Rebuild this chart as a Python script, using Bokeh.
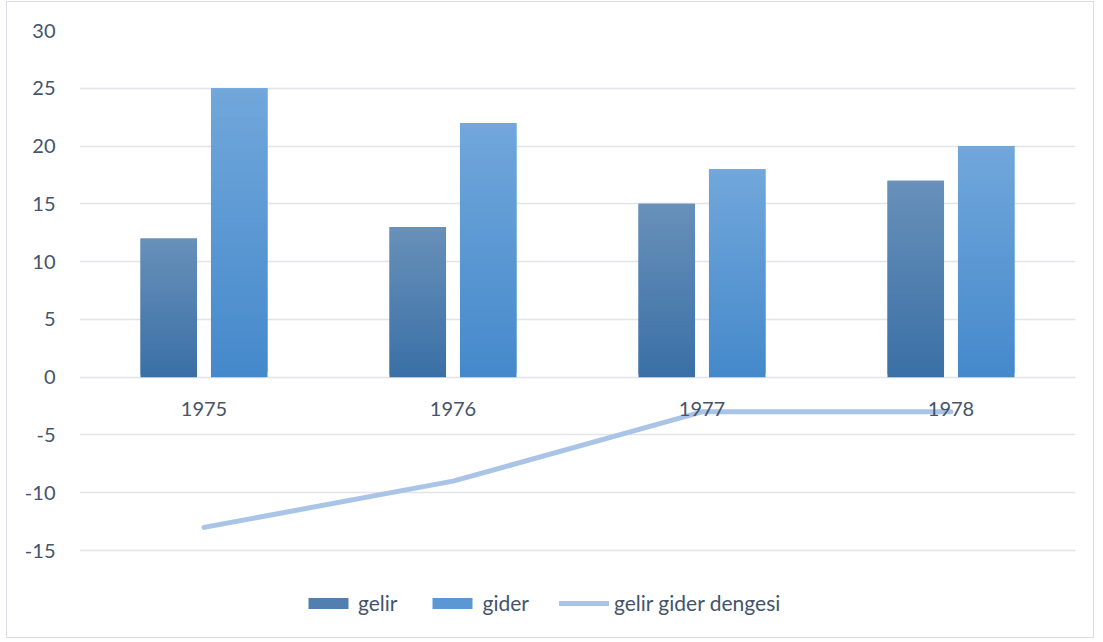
import numpy as np
from bokeh.plotting import figure
from bokeh.models import (Range1d, Legend, LegendItem, ColumnDataSource, FixedTicker,
                          PrintfTickFormatter)
from bokeh.core.properties import value
from bokeh.embed import file_html
from bokeh.resources import INLINE

# ---- data ----
years = ["1975", "1976", "1977", "1978"]
gelir = [12, 13, 15, 17]
gider = [25, 22, 18, 20]
denge = [-13, -9, -3, -3]
y_ticks = [-15, -10, -5, 0, 5, 10, 15, 20, 25, 30]

FONT = "Lato"
TEXT_COLOR = "#44546a"

# layout (pixels)
W, H = 1088, 637
BL, BR, BT, BB = 72, 20, 28, 10
frame_h = H - BT - BB
px_per_unit = 520 / 45.0           # 30 .. -15 spans 520 px in the reference
y_top = 30
y_bottom = y_top - frame_h / px_per_unit

p = figure(width=W, height=H, output_backend="svg", toolbar_location=None,
           x_range=Range1d(0, len(years)), y_range=Range1d(y_bottom, y_top),
           min_border_left=BL, min_border_right=BR, min_border_top=BT, min_border_bottom=BB)
p.outline_line_color = None
p.background_fill_color = "white"
p.border_fill_color = "white"

# axes
p.xaxis.visible = False
p.yaxis.ticker = FixedTicker(ticks=y_ticks)
p.yaxis.formatter = PrintfTickFormatter(format="%d")
p.yaxis.axis_line_color = None
p.yaxis.major_tick_line_color = None
p.yaxis.minor_tick_line_color = None
p.yaxis.major_label_standoff = 18
p.yaxis.major_label_text_font = FONT
p.yaxis.major_label_text_font_size = "20px"
p.yaxis.major_label_text_color = TEXT_COLOR
p.xgrid.visible = False
p.ygrid.ticker = FixedTicker(ticks=y_ticks)
p.ygrid.grid_line_color = "#e1e4ea"
p.ygrid.grid_line_width = 1.5

def hex2rgb(h):
    h = h.lstrip("#")
    return np.array([int(h[i:i + 2], 16) for i in (0, 2, 4)], dtype=float)

def gradient_bars(values, offset, width, top_hex, bottom_hex, n=60):
    top_c, bot_c = hex2rgb(top_hex), hex2rgb(bottom_hex)
    left, right, bottom, top, colors = [], [], [], [], []
    for i, v in enumerate(values):
        cx = i + 0.5 + offset
        edges = np.linspace(0, v, n + 1)
        for k in range(n):
            t = (k + 0.5) / n  # 0 at bottom, 1 at top
            c = bot_c + (top_c - bot_c) * t
            left.append(cx - width / 2)
            right.append(cx + width / 2)
            bottom.append(edges[k])
            top.append(edges[min(k + 2, n)])   # overlap next slice to hide seams
            colors.append("#%02x%02x%02x" % tuple(int(round(x)) for x in c))
    src = ColumnDataSource(dict(left=left, right=right, bottom=bottom, top=top, color=colors))
    r = p.quad(left="left", right="right", bottom="bottom", top="top", source=src,
               fill_color="color", line_color=None)
    return r, n // 2

BAR_W = 0.227
r_gelir, mid1 = gradient_bars(gelir, -0.1415, BAR_W, "#6890b9", "#3a70a6")
r_gider, mid2 = gradient_bars(gider, 0.1415, BAR_W, "#71a7db", "#4589cb")

xs = [i + 0.5 for i in range(len(years))]
r_line = p.line(xs, denge, line_color="#a9c4e6", line_width=5, line_cap="round", line_join="round")

# category labels under the zero line
p.text(x=xs, y=[0] * len(years), text=years, y_offset=32,
       text_align="center", text_baseline="middle",
       text_font=value(FONT), text_font_size="20px", text_color=TEXT_COLOR)

legend = Legend(items=[
    LegendItem(label="gelir", renderers=[r_gelir], index=mid1),
    LegendItem(label="gider", renderers=[r_gider], index=mid2),
    LegendItem(label="gelir gider dengesi", renderers=[r_line]),
], orientation="horizontal", location=(224, 14))
legend.glyph_width = 50
legend.glyph_height = 14
legend.label_standoff = 5
legend.spacing = 30
legend.padding = 0
legend.margin = 0
legend.border_line_color = None
legend.background_fill_alpha = 0
legend.label_text_font = FONT
legend.label_text_font_size = "21px"
legend.label_text_color = TEXT_COLOR
p.add_layout(legend, "center")

p.styles = {"border": "1px solid #d9dde3", "box-sizing": "border-box",
            "margin-left": "6px", "margin-top": "1px"}

open("out.html", "w").write(file_html(p, INLINE))
